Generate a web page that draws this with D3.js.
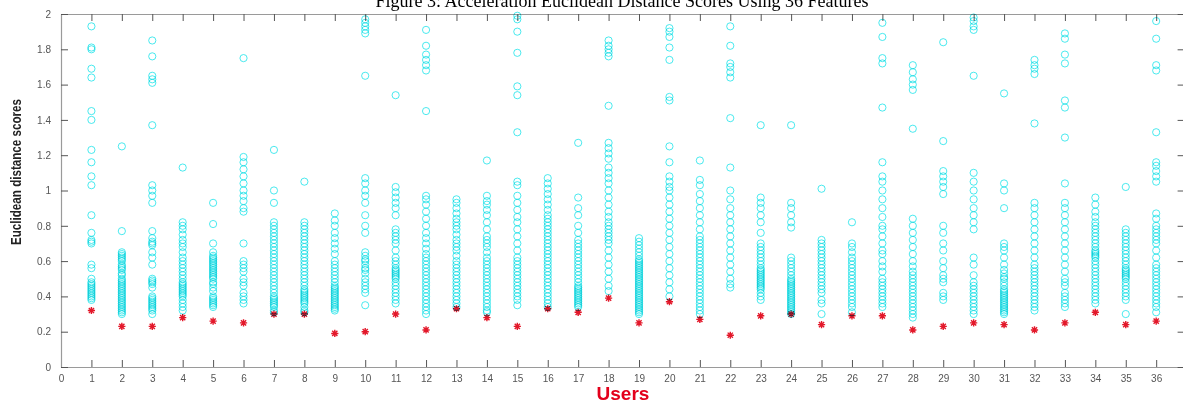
<!DOCTYPE html>
<html>
<head>
<meta charset="utf-8">
<script src="https://cdn.jsdelivr.net/npm/d3@7"></script>
<style>
  html, body { margin: 0; padding: 0; background: #fff; overflow: hidden; }
  svg { display: block; }
  .tick text { font-family: "Liberation Sans", Arial, sans-serif; font-size: 10px; fill: #555; }
</style>
</head>
<body>
<svg id="chart" width="1183" height="403"></svg>
<script>
// users on the x axis
var users = d3.range(1, 37);

// lowest (best) score per user, drawn as red stars
var bestScores = [0.32,0.23,0.23,0.28,0.26,0.25,0.30,0.30,0.19,0.20,0.30,0.21,0.33,0.28,0.23,0.33,0.31,0.39,
                  0.25,0.37,0.27,0.18,0.29,0.30,0.24,0.29,0.29,0.21,0.23,0.25,0.24,0.21,0.25,0.31,0.24,0.26];

// all scores per user, drawn as cyan circles
var userScores = [
  [1.93,1.81,1.80,1.69,1.64,1.45,1.40,1.23,1.16,1.08,1.03,0.86,0.76,0.72,0.71,0.70,0.58,0.56,0.50,0.48,0.47,0.46,0.45,0.44,0.43,0.42,0.41,0.40,0.39,0.38],
  [1.25,0.77,0.65,0.64,0.63,0.62,0.61,0.60,0.58,0.57,0.56,0.55,0.53,0.52,0.50,0.49,0.48,0.47,0.46,0.45,0.44,0.43,0.42,0.41,0.40,0.39,0.38,0.37,0.36,0.35,0.34,0.33,0.32,0.31,0.30],
  [1.85,1.76,1.65,1.63,1.61,1.37,1.03,1.00,0.97,0.93,0.77,0.73,0.71,0.70,0.69,0.65,0.62,0.58,0.50,0.49,0.48,0.47,0.45,0.40,0.39,0.38,0.37,0.36,0.35,0.34,0.33,0.32,0.30],
  [1.13,0.82,0.80,0.78,0.75,0.72,0.70,0.68,0.65,0.62,0.60,0.58,0.56,0.54,0.52,0.50,0.48,0.47,0.46,0.45,0.44,0.43,0.42,0.41,0.40,0.38,0.36,0.34,0.32],
  [0.93,0.81,0.70,0.65,0.63,0.62,0.61,0.60,0.59,0.58,0.57,0.56,0.55,0.54,0.53,0.52,0.51,0.50,0.48,0.47,0.45,0.43,0.40,0.39,0.38,0.37,0.36,0.35,0.34],
  [1.75,1.19,1.16,1.12,1.08,1.04,1.00,0.97,0.94,0.90,0.88,0.70,0.60,0.58,0.56,0.54,0.50,0.48,0.46,0.42,0.40,0.38,0.36],
  [1.23,1.00,0.93,0.82,0.80,0.78,0.76,0.74,0.72,0.70,0.68,0.66,0.64,0.62,0.60,0.58,0.56,0.54,0.52,0.50,0.48,0.46,0.44,0.42,0.40,0.39,0.38,0.37,0.36,0.35,0.34,0.32,0.31],
  [1.05,0.82,0.80,0.78,0.76,0.74,0.72,0.70,0.68,0.66,0.64,0.62,0.60,0.58,0.56,0.54,0.52,0.50,0.48,0.46,0.44,0.43,0.42,0.41,0.40,0.39,0.38,0.37,0.36,0.34,0.32,0.31],
  [0.87,0.83,0.80,0.76,0.73,0.70,0.67,0.64,0.60,0.58,0.56,0.54,0.52,0.50,0.48,0.46,0.45,0.44,0.43,0.42,0.41,0.40,0.39,0.38,0.37,0.36,0.35,0.34,0.33,0.32],
  [1.97,1.95,1.93,1.91,1.89,1.65,1.07,1.04,1.00,0.97,0.93,0.86,0.80,0.76,0.65,0.63,0.61,0.60,0.58,0.56,0.55,0.53,0.50,0.48,0.46,0.44,0.42,0.35],
  [1.54,1.02,0.99,0.96,0.93,0.90,0.86,0.78,0.76,0.74,0.72,0.70,0.66,0.62,0.60,0.58,0.56,0.55,0.54,0.53,0.52,0.51,0.50,0.48,0.46,0.44,0.42,0.40,0.38,0.36],
  [1.91,1.82,1.77,1.74,1.71,1.68,1.45,0.97,0.95,0.92,0.88,0.84,0.80,0.76,0.73,0.70,0.67,0.64,0.62,0.60,0.58,0.56,0.54,0.52,0.50,0.48,0.46,0.44,0.42,0.40,0.38,0.36,0.34,0.32,0.30],
  [0.95,0.93,0.90,0.87,0.84,0.82,0.80,0.78,0.75,0.72,0.70,0.68,0.66,0.63,0.60,0.58,0.56,0.54,0.52,0.50,0.48,0.46,0.44,0.42,0.40,0.38,0.36,0.34],
  [1.17,0.97,0.94,0.92,0.89,0.86,0.82,0.78,0.74,0.72,0.70,0.68,0.65,0.62,0.60,0.58,0.56,0.54,0.52,0.50,0.48,0.46,0.44,0.42,0.40,0.38,0.36,0.34,0.32,0.31],
  [1.99,1.97,1.90,1.78,1.59,1.54,1.33,1.05,1.03,0.97,0.93,0.89,0.85,0.82,0.78,0.74,0.70,0.66,0.62,0.60,0.58,0.56,0.54,0.52,0.50,0.48,0.46,0.44,0.42,0.40,0.38,0.35],
  [1.07,1.04,1.01,0.98,0.95,0.92,0.89,0.86,0.84,0.82,0.80,0.78,0.76,0.74,0.72,0.70,0.68,0.66,0.64,0.62,0.60,0.58,0.56,0.54,0.52,0.50,0.48,0.46,0.44,0.42,0.40,0.38,0.36,0.34],
  [1.27,0.96,0.90,0.86,0.80,0.76,0.72,0.70,0.68,0.66,0.64,0.62,0.60,0.58,0.56,0.54,0.52,0.50,0.48,0.46,0.45,0.44,0.43,0.42,0.41,0.40,0.39,0.38,0.37,0.36,0.35,0.34],
  [1.85,1.82,1.80,1.78,1.76,1.48,1.27,1.24,1.21,1.18,1.13,1.10,1.07,1.04,1.00,0.96,0.92,0.88,0.85,0.82,0.80,0.78,0.76,0.74,0.72,0.70,0.66,0.62,0.58,0.54,0.50,0.46,0.43],
  [0.73,0.71,0.69,0.67,0.65,0.63,0.61,0.60,0.59,0.58,0.57,0.56,0.55,0.54,0.53,0.52,0.51,0.50,0.49,0.48,0.47,0.46,0.45,0.44,0.43,0.42,0.41,0.40,0.39,0.38,0.37,0.36,0.35,0.34,0.33,0.32,0.31,0.30],
  [1.92,1.90,1.87,1.81,1.74,1.53,1.51,1.25,1.16,1.08,1.05,1.02,1.00,0.96,0.92,0.88,0.84,0.80,0.76,0.72,0.68,0.64,0.60,0.56,0.52,0.48,0.44,0.40],
  [1.17,1.06,1.03,0.98,0.94,0.90,0.86,0.82,0.78,0.74,0.72,0.70,0.68,0.66,0.64,0.62,0.60,0.58,0.56,0.54,0.52,0.50,0.48,0.46,0.44,0.42,0.40,0.38,0.36,0.34,0.32,0.30],
  [1.93,1.82,1.72,1.70,1.67,1.64,1.41,1.13,1.00,0.95,0.90,0.86,0.82,0.78,0.74,0.70,0.66,0.62,0.58,0.54,0.50,0.47,0.45],
  [1.37,0.96,0.93,0.90,0.86,0.82,0.76,0.70,0.68,0.66,0.64,0.62,0.60,0.58,0.56,0.55,0.54,0.53,0.52,0.51,0.50,0.49,0.48,0.47,0.46,0.45,0.44,0.42,0.40,0.38],
  [1.37,0.93,0.90,0.86,0.82,0.79,0.62,0.60,0.58,0.56,0.54,0.52,0.50,0.49,0.48,0.47,0.46,0.45,0.44,0.43,0.42,0.41,0.40,0.39,0.38,0.37,0.36,0.35,0.34,0.33,0.32,0.31,0.30],
  [1.01,0.72,0.70,0.68,0.66,0.64,0.62,0.60,0.58,0.56,0.54,0.52,0.50,0.48,0.46,0.44,0.42,0.38,0.36,0.30],
  [0.82,0.70,0.68,0.65,0.62,0.60,0.58,0.56,0.54,0.52,0.50,0.48,0.46,0.44,0.42,0.40,0.38,0.36,0.34,0.31],
  [1.95,1.87,1.75,1.72,1.47,1.16,1.08,1.05,1.00,0.95,0.90,0.85,0.80,0.78,0.74,0.70,0.66,0.64,0.60,0.57,0.54,0.50,0.48,0.46,0.44,0.42,0.40,0.38,0.36,0.34],
  [1.71,1.67,1.63,1.60,1.57,1.35,0.84,0.80,0.76,0.72,0.68,0.64,0.60,0.57,0.54,0.52,0.50,0.48,0.46,0.44,0.42,0.40,0.38,0.36,0.34,0.32,0.30,0.28],
  [1.84,1.28,1.11,1.08,1.05,1.02,0.98,0.80,0.76,0.70,0.66,0.60,0.56,0.52,0.50,0.48,0.42,0.40,0.38],
  [1.98,1.96,1.93,1.91,1.65,1.10,1.05,1.00,0.95,0.90,0.86,0.82,0.78,0.62,0.58,0.52,0.48,0.46,0.44,0.42,0.40,0.38,0.36,0.34,0.32,0.30],
  [1.55,1.04,1.00,0.90,0.70,0.68,0.66,0.62,0.58,0.55,0.53,0.51,0.50,0.48,0.46,0.44,0.43,0.42,0.41,0.40,0.39,0.38,0.37,0.36,0.35,0.34,0.33,0.32,0.31,0.30],
  [1.74,1.71,1.69,1.66,1.38,0.93,0.90,0.86,0.82,0.78,0.74,0.70,0.66,0.62,0.58,0.56,0.54,0.52,0.50,0.48,0.46,0.44,0.42,0.40,0.38,0.36,0.34,0.32],
  [1.89,1.86,1.77,1.72,1.51,1.47,1.30,1.04,0.93,0.90,0.86,0.82,0.78,0.74,0.70,0.66,0.62,0.58,0.54,0.50,0.48,0.46,0.42,0.40,0.38,0.36,0.34],
  [0.96,0.92,0.88,0.85,0.82,0.80,0.78,0.76,0.74,0.72,0.70,0.68,0.66,0.65,0.64,0.63,0.62,0.60,0.58,0.56,0.54,0.52,0.50,0.48,0.46,0.44,0.42,0.40,0.38,0.36],
  [1.02,0.78,0.76,0.74,0.72,0.70,0.68,0.66,0.64,0.62,0.60,0.58,0.56,0.55,0.54,0.53,0.52,0.51,0.50,0.48,0.46,0.44,0.42,0.40,0.38,0.30],
  [1.96,1.86,1.71,1.68,1.33,1.16,1.14,1.11,1.08,1.05,0.87,0.84,0.80,0.78,0.76,0.74,0.72,0.70,0.66,0.62,0.58,0.56,0.54,0.52,0.50,0.48,0.46,0.44,0.42,0.40,0.38,0.36,0.34,0.31]
];

var xTicks = d3.range(0, 37);
var yTicks = [0, 0.2, 0.4, 0.6, 0.8, 1, 1.2, 1.4, 1.6, 1.8, 2];

var titleText = "Figure 3: Acceleration Euclidean Distance Scores Using 36 Features";
var xLabel = "Users";
var yLabel = "Euclidean distance scores";

var svg = d3.select("#chart");

var x = d3.scaleLinear().domain([0, 37]).range([61, 1186.6]);
var y = d3.scaleLinear().domain([0, 2]).range([367, 14]);

var fmt = function(d) { return String(+d.toFixed(1)); };

// bottom axis
var gx = svg.append("g").attr("transform", "translate(0," + y(0) + ")")
  .call(d3.axisBottom(x).tickValues(xTicks).tickFormat(fmt).tickSizeInner(-7).tickSizeOuter(0).tickPadding(8));
// top axis, ticks only
var gxt = svg.append("g").attr("transform", "translate(0," + y(2) + ")")
  .call(d3.axisTop(x).tickValues(xTicks).tickFormat("").tickSizeInner(-7).tickSizeOuter(0));
// left axis
var gy = svg.append("g").attr("transform", "translate(" + x(0) + ",0)")
  .call(d3.axisLeft(y).tickValues(yTicks).tickFormat(fmt).tickSizeInner(-7).tickSizeOuter(0).tickPadding(10));
// right axis, ticks only (line falls just past the edge)
var gyr = svg.append("g").attr("transform", "translate(" + x(37) + ",0)")
  .call(d3.axisRight(y).tickValues(yTicks).tickFormat("").tickSizeInner(-9).tickSizeOuter(0));

[gx, gxt, gy, gyr].forEach(function(g) {
  g.select(".domain").attr("stroke", "#9a9a9a").attr("stroke-width", 1.2);
  g.selectAll(".tick line").attr("stroke", "#555").attr("stroke-width", 1);
});
// tick at x=0 sits on the left axis
gx.selectAll(".tick").filter(function(d) { return d === 0; }).select("line").remove();
gxt.selectAll(".tick").filter(function(d) { return d === 0; }).select("line").remove();

// red stars, drawn first so circles multiply over them
var starPath = "M-3.6,0H3.6M0,-3.6V3.6M-2.6,-2.6L2.6,2.6M-2.6,2.6L2.6,-2.6";
svg.append("g").selectAll("path")
  .data(bestScores)
  .enter()
  .append("path")
  .attr("d", starPath)
  .attr("transform", function(d, i) { return "translate(" + x(users[i]) + "," + y(d) + ")"; })
  .attr("stroke", "#e3182a")
  .attr("stroke-width", 1.4)
  .attr("fill", "none");

// cyan circles
var pts = [];
userScores.forEach(function(arr, i) {
  arr.forEach(function(v) { pts.push({ u: users[i], v: v }); });
});
svg.append("g")
  .selectAll("circle")
  .data(pts)
  .enter()
  .append("circle")
  .attr("cx", function(d) { return x(d.u); })
  .attr("cy", function(d) { return y(d.v); })
  .attr("r", 3.6)
  .attr("fill", "none")
  .attr("stroke", "#1ee3ea")
  .attr("stroke-opacity", 0.8)
  .attr("stroke-width", 1)
  .style("mix-blend-mode", "multiply");

// title
svg.append("text")
  .attr("x", 622).attr("y", 7)
  .attr("text-anchor", "middle")
  .attr("font-family", "'Liberation Serif', 'Times New Roman', serif")
  .attr("font-size", "18px")
  .attr("fill", "#000")
  .text(titleText);

// x label
svg.append("text")
  .attr("x", 623).attr("y", 400)
  .attr("text-anchor", "middle")
  .attr("font-family", "'Liberation Sans', Arial, sans-serif")
  .attr("font-size", "19px")
  .attr("font-weight", "bold")
  .attr("fill", "#e3001b")
  .text(xLabel);

// y label
svg.append("text")
  .attr("transform", "translate(21,172) rotate(-90)")
  .attr("text-anchor", "middle")
  .attr("font-family", "'Liberation Sans', Arial, sans-serif")
  .attr("font-size", "14px")
  .attr("font-weight", "bold")
  .attr("textLength", 146)
  .attr("lengthAdjust", "spacingAndGlyphs")
  .attr("fill", "#222")
  .text(yLabel);
</script>
</body>
</html>
